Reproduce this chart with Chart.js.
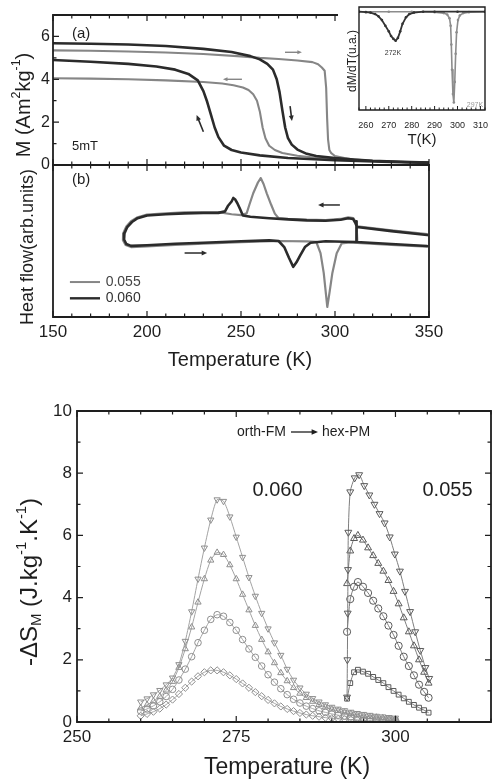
<!DOCTYPE html>
<html>
<head>
<meta charset="utf-8">
<title>M(T), DSC and magnetic entropy change</title>
<script src="https://cdn.jsdelivr.net/npm/chart.js@4.4.1/dist/chart.umd.min.js"></script>
<style>
  html, body { margin: 0; padding: 0; background: #fff; }
  body { position: relative; width: 493px; height: 784px; overflow: hidden; }
  canvas { position: absolute; }
</style>
</head>
<body>
<canvas id="panelA" width="440" height="172" style="left:0px;top:0px"></canvas>
<canvas id="panelB" width="460" height="210" style="left:0px;top:160px"></canvas>
<canvas id="inset" width="155" height="148" style="left:338px;top:0px"></canvas>
<canvas id="panelS" width="493" height="389" style="left:0px;top:395px"></canvas>
<script>
// ---- (a) magnetisation at 5 mT, heating and cooling ----
const tA060Heat = [150, 170, 190, 210, 230, 245, 255, 260, 264, 267, 269, 270.5, 272, 273.5, 275, 277, 280, 285, 290, 300, 310, 320, 335, 350];
const mA060Heat = [5.68, 5.66, 5.62, 5.55, 5.42, 5.27, 5.08, 4.93, 4.72, 4.45, 4.0, 3.4, 2.55, 1.75, 1.25, 0.95, 0.72, 0.52, 0.42, 0.32, 0.26, 0.2, 0.15, 0.12];
const tA060Cool = [150, 170, 190, 205, 215, 222, 227, 230, 232, 234, 236, 238, 241, 245, 250, 260, 275, 300, 325, 350];
const mA060Cool = [4.9, 4.82, 4.72, 4.6, 4.45, 4.25, 3.95, 3.45, 2.95, 2.35, 1.75, 1.3, 0.9, 0.7, 0.58, 0.45, 0.33, 0.22, 0.15, 0.1];
const tA055Heat = [150, 170, 190, 210, 230, 250, 260, 270, 280, 288, 291, 293, 294.5, 295.3, 295.8, 296.3, 297, 298, 300, 305, 310, 320, 335, 350];
const mA055Heat = [5.35, 5.33, 5.3, 5.25, 5.18, 5.07, 5.0, 4.95, 4.88, 4.8, 4.7, 4.55, 4.4, 3.6, 2.2, 1.2, 0.7, 0.55, 0.42, 0.32, 0.26, 0.2, 0.15, 0.12];
const tA055Cool = [150, 170, 190, 210, 230, 240, 246, 251, 254, 256.5, 258.5, 260, 261.5, 263, 265, 268, 272, 280, 290, 300, 315, 335, 350];
const mA055Cool = [4.05, 4.03, 4.0, 3.95, 3.87, 3.8, 3.72, 3.62, 3.5, 3.3, 3.0, 2.5, 1.75, 1.25, 0.9, 0.7, 0.56, 0.43, 0.34, 0.27, 0.2, 0.14, 0.1];

// ---- inset: dM/dT ----
const tIn060 = [257, 260, 262, 264, 265.5, 267, 268.5, 270, 271, 272, 273, 274, 275, 276, 277.5, 279, 281, 285, 290, 300, 312];
const dIn060 = [0, -0.005, -0.01, -0.025, -0.05, -0.09, -0.15, -0.21, -0.26, -0.29, -0.31, -0.28, -0.21, -0.13, -0.06, -0.025, -0.01, 0, 0, 0, 0];
const tIn055 = [257, 270, 280, 290, 294, 295.5, 296.5, 297, 297.3, 297.6, 298, 298.4, 298.8, 299.2, 299.6, 300.2, 301, 302.5, 305, 312];
const dIn055 = [0, 0, 0, -0.005, -0.015, -0.03, -0.07, -0.15, -0.35, -0.62, -0.88, -0.97, -0.75, -0.45, -0.22, -0.09, -0.04, -0.015, -0.005, 0];

// ---- (b) heat flow loops (cooling branch first, then heating) ----
const tB060 = [349, 330, 311.7, 310.8, 309.6, 307, 303, 295, 285, 275, 265, 255, 251, 249.5, 248, 246.8, 245.9, 245, 244, 243, 241.5, 238, 230, 220, 210, 200, 195, 192, 189.5, 188, 187.8, 189, 191.5, 200, 215, 230, 250, 265, 270, 273, 275.5, 277.8, 279.5, 281.5, 284, 287, 295, 305, 311.2, 311.2, 311.7, 330, 349];
const hB060 = [5.39, 5.65, 5.92, 6.2, 6.45, 6.5, 6.4, 6.33, 6.36, 6.42, 6.5, 6.6, 6.68, 7.1, 7.5, 7.75, 7.83, 7.6, 7.45, 7.3, 6.95, 6.85, 6.84, 6.82, 6.76, 6.68, 6.5, 6.25, 5.92, 5.5, 5.1, 4.8, 4.68, 4.72, 4.82, 4.88, 4.98, 5.04, 5.0, 4.6, 3.9, 3.3, 3.6, 4.05, 4.6, 4.88, 4.98, 4.95, 4.93, 6.3, 4.93, 4.8, 4.67];
const tB055 = [349, 330, 311.9, 311, 309.8, 307, 303, 295, 285, 275, 270, 268, 266, 263.7, 262, 260.5, 259, 256.5, 254.5, 253, 250, 245, 238, 230, 220, 210, 200, 195, 191.5, 189, 187.3, 187.2, 188.6, 191.5, 200, 215, 230, 250, 270, 285, 290, 292.3, 294, 295.9, 297.2, 298.6, 300.9, 303.6, 308, 311.4, 311.4, 311.9, 330, 349];
const hB055 = [5.45, 5.7, 5.97, 6.25, 6.5, 6.55, 6.45, 6.38, 6.4, 6.45, 6.5, 6.8, 7.4, 8.14, 8.75, 9.14, 8.85, 8.14, 7.4, 6.82, 6.7, 6.76, 6.9, 6.9, 6.88, 6.82, 6.74, 6.56, 6.3, 5.95, 5.5, 5.05, 4.74, 4.6, 4.65, 4.75, 4.82, 4.92, 5.0, 4.98, 4.95, 4.2, 2.9, 0.66, 1.7, 2.9, 4.2, 4.85, 4.9, 4.88, 6.3, 4.88, 4.75, 4.62];

// ---- bottom: -dS_M for x = 0.060 and x = 0.055 ----
const tS060 = [260, 261, 262, 263, 264, 265, 266, 267, 268, 269, 270, 271, 272, 273, 274, 275, 276, 277, 278, 279, 280, 281, 282, 283, 284, 285, 286, 287, 288, 289, 290, 291, 292, 293, 294, 295, 296, 297, 298, 299, 300];
const sDown060 = [0.65, 0.75, 0.88, 1.02, 1.2, 1.42, 1.85, 2.6, 3.55, 4.6, 5.6, 6.5, 7.15, 7.1, 6.6, 5.95, 5.3, 4.65, 4.05, 3.5, 3.0, 2.55, 2.15, 1.7, 1.35, 1.1, 0.9, 0.76, 0.65, 0.56, 0.48, 0.42, 0.37, 0.32, 0.28, 0.25, 0.22, 0.19, 0.17, 0.15, 0.13];
const sUp060 = [0.45, 0.55, 0.67, 0.82, 1.02, 1.3, 1.75, 2.35, 3.05, 3.85, 4.6, 5.2, 5.45, 5.38, 5.05, 4.6, 4.1, 3.6, 3.1, 2.65, 2.25, 1.9, 1.58, 1.32, 1.1, 0.92, 0.78, 0.66, 0.56, 0.48, 0.41, 0.36, 0.31, 0.27, 0.23, 0.2, 0.17, 0.15, 0.13, 0.11, 0.1];
const sCirc060 = [0.35, 0.42, 0.52, 0.65, 0.82, 1.05, 1.35, 1.7, 2.1, 2.55, 2.95, 3.3, 3.45, 3.4, 3.2, 2.95, 2.65, 2.35, 2.08, 1.8, 1.52, 1.28, 1.07, 0.88, 0.73, 0.61, 0.51, 0.43, 0.36, 0.31, 0.26, 0.22, 0.19, 0.16, 0.14, 0.12, 0.1, 0.09, 0.08, 0.07, 0.06];
const sSq060 = [0.2, 0.26, 0.33, 0.43, 0.56, 0.72, 0.9, 1.1, 1.3, 1.47, 1.6, 1.66, 1.66, 1.6, 1.5, 1.38, 1.24, 1.1, 0.96, 0.83, 0.71, 0.6, 0.5, 0.42, 0.35, 0.29, 0.24, 0.2, 0.17, 0.14, 0.12, 0.1, 0.09, 0.08, 0.07, 0.06, 0.05, 0.05, 0.04, 0.04, 0.04];

const tDown055 = [292.4, 292.45, 292.5, 292.55, 292.6, 292.9, 293.6, 294.3, 295.1, 295.9, 296.7, 297.5, 298.3, 299.1, 299.9, 300.7, 301.5, 302.3, 303.1, 303.9, 304.7, 305.3];
const sDown055 = [0.8, 2.0, 3.5, 4.9, 6.1, 7.4, 7.85, 7.95, 7.6, 7.3, 7.0, 6.7, 6.4, 5.95, 5.4, 4.85, 4.2, 3.55, 2.9, 2.3, 1.75, 1.4];
const tS055 = [292.4, 292.9, 293.5, 294.1, 294.9, 295.7, 296.5, 297.3, 298.1, 298.9, 299.7, 300.5, 301.3, 302.1, 302.9, 303.7, 304.5, 305.2];
const sUp055 = [4.45, 5.5, 5.9, 6.0, 5.85, 5.6, 5.35, 5.1, 4.85, 4.55, 4.2, 3.8, 3.35, 2.9, 2.45, 2.0, 1.6, 1.25];
const sCirc055 = [2.9, 3.95, 4.35, 4.5, 4.35, 4.15, 3.9, 3.65, 3.4, 3.1, 2.8, 2.45, 2.1, 1.8, 1.5, 1.2, 0.97, 0.78];
const sSq055 = [0.75, 1.25, 1.6, 1.68, 1.62, 1.55, 1.45, 1.35, 1.25, 1.12, 1.0, 0.88, 0.76, 0.65, 0.55, 0.46, 0.38, 0.3];

const FONT = '"Liberation Sans", Arial, Helvetica, sans-serif';
const DARK = '#2b2b2b';
const GRAY = '#868686';
const INK = '#1e1e1e';

Chart.defaults.font.family = FONT;
Chart.defaults.color = INK;
Chart.defaults.animation = false;
Chart.defaults.responsive = false;
Chart.defaults.devicePixelRatio = 1;
Chart.defaults.plugins.legend.display = false;
Chart.defaults.plugins.tooltip.enabled = false;
Chart.defaults.layout.autoPadding = false;

function xy(xs, ys) {
  return xs.map((x, i) => ({ x: x, y: ys[i] }));
}

function line(xs, ys, color, width) {
  return { data: xy(xs, ys), showLine: true, borderColor: color, borderWidth: width,
    pointRadius: 0, tension: 0, borderJoinStyle: 'round', borderCapStyle: 'round' };
}

function marks(xs, ys, style, rot, mColor, lColor, r) {
  return { data: xy(xs, ys), showLine: true, borderColor: lColor, borderWidth: 1, tension: 0.25,
    pointStyle: style, pointRotation: rot, pointRadius: r, pointBorderColor: mColor,
    pointBackgroundColor: 'rgba(255,255,255,0)', pointBorderWidth: 1 };
}

// fixed axis box so the plot area lands where the figure has it
function fix(size, horizontal) {
  return axis => {
    if (horizontal) axis.height = size; else axis.width = size;
    axis.paddingTop = axis.paddingBottom = axis.paddingLeft = axis.paddingRight = 0;
  };
}

const NOGRID = { display: false, drawTicks: false };

function axis(min, max, step, o) {
  return {
    min: min, max: max, grid: NOGRID, border: { display: false },
    ticks: { stepSize: step, autoSkip: false, maxRotation: 0, color: INK, display: o.show !== false,
      font: { size: o.size || 16 }, padding: o.pad || 4, callback: o.label },
    afterFit: fix(o.fit, o.horizontal)
  };
}

// text with sub/superscripts: parts = [text, scale, shift(em)]
function richText(ctx, parts, x, y, size, align, rotate) {
  ctx.save();
  ctx.translate(x, y);
  if (rotate) ctx.rotate(rotate);
  const widths = parts.map(p => {
    ctx.font = (size * (p[1] || 1)) + 'px ' + FONT;
    return ctx.measureText(p[0]).width;
  });
  const total = widths.reduce((a, b) => a + b, 0);
  let cx = align === 'center' ? -total / 2 : (align === 'right' ? -total : 0);
  ctx.textBaseline = 'middle';
  ctx.textAlign = 'left';
  parts.forEach((p, i) => {
    ctx.font = (size * (p[1] || 1)) + 'px ' + FONT;
    ctx.fillText(p[0], cx, (p[2] || 0) * size);
    cx += widths[i];
  });
  ctx.restore();
}

function arrow(ctx, x1, y1, x2, y2, w, h) {
  const a = Math.atan2(y2 - y1, x2 - x1);
  ctx.lineWidth = w;
  ctx.beginPath();
  ctx.moveTo(x1, y1);
  ctx.lineTo(x2 - Math.cos(a) * h * 0.6, y2 - Math.sin(a) * h * 0.6);
  ctx.stroke();
  ctx.beginPath();
  ctx.moveTo(x2, y2);
  ctx.lineTo(x2 - h * Math.cos(a - 0.42), y2 - h * Math.sin(a - 0.42));
  ctx.lineTo(x2 - h * Math.cos(a + 0.42), y2 - h * Math.sin(a + 0.42));
  ctx.closePath();
  ctx.fill();
}

const bgPlugin = {
  id: 'bg',
  beforeDraw(chart, args, o) {
    if (!o || !o.color) return;
    const ctx = chart.ctx;
    ctx.save();
    ctx.fillStyle = o.color;
    ctx.fillRect(0, 0, chart.width, chart.height);
    ctx.restore();
  }
};

// box round the plot plus inward tick marks
const framePlugin = {
  id: 'frame',
  afterDatasetsDraw(chart, args, o) {
    if (!o || !o.sides) return;
    const { ctx, chartArea: a, scales } = chart;
    ctx.save();
    ctx.strokeStyle = INK;
    ctx.lineWidth = o.width || 1.6;
    ctx.lineCap = 'square';
    ctx.beginPath();
    if (o.sides.includes('l')) { ctx.moveTo(a.left, a.top); ctx.lineTo(a.left, a.bottom); }
    if (o.sides.includes('r')) { ctx.moveTo(a.right, a.top); ctx.lineTo(a.right, a.bottom); }
    if (o.sides.includes('t')) { ctx.moveTo(a.left, a.top); ctx.lineTo(o.topEnd || a.right, a.top); }
    if (o.sides.includes('b')) { ctx.moveTo(a.left, a.bottom); ctx.lineTo(a.right, a.bottom); }
    ctx.stroke();
    ctx.lineWidth = o.tickWidth || 1.2;
    ctx.lineCap = 'butt';
    ctx.beginPath();
    (o.xTicks || '').split('').forEach(side => {
      scales.x.ticks.forEach(t => {
        const px = scales.x.getPixelForValue(t.value);
        const len = t.label === '' ? o.minor : o.major;
        if (side === 't' && o.topEnd && px > o.topEnd) return;
        const y0 = side === 'b' ? a.bottom : a.top;
        ctx.moveTo(px, y0);
        ctx.lineTo(px, y0 + (side === 'b' ? -len : len));
      });
    });
    (o.yTicks || '').split('').forEach(side => {
      scales.y.ticks.forEach(t => {
        const py = scales.y.getPixelForValue(t.value);
        const len = t.label === '' ? o.minor : o.major;
        const x0 = side === 'l' ? a.left : a.right;
        ctx.moveTo(x0, py);
        ctx.lineTo(x0 + (side === 'l' ? len : -len), py);
      });
    });
    ctx.stroke();
    ctx.restore();
  }
};

// labels, arrows and legend strokes; data units unless px is set
const notesPlugin = {
  id: 'notes',
  afterDraw(chart, args, o) {
    if (!o || !o.items) return;
    const ctx = chart.ctx;
    const sx = chart.scales.x, sy = chart.scales.y;
    const P = (it, x, y) => it.px ? [x, y] : [sx.getPixelForValue(x), sy.getPixelForValue(y)];
    o.items.forEach(it => {
      ctx.save();
      ctx.fillStyle = ctx.strokeStyle = it.color || INK;
      if (it.kind === 'text') {
        const [x, y] = P(it, it.x, it.y);
        const parts = typeof it.text === 'string' ? [[it.text]] : it.text;
        richText(ctx, parts, x, y, it.size, it.align || 'left', it.rotate || 0);
      } else if (it.kind === 'arrow') {
        const [x1, y1] = P(it, it.x1, it.y1);
        const [x2, y2] = P(it, it.x2, it.y2);
        arrow(ctx, x1, y1, x2, y2, it.width || 1.5, it.head || 6);
      } else if (it.kind === 'line') {
        const [x1, y1] = P(it, it.x1, it.y1);
        const [x2, y2] = P(it, it.x2, it.y2);
        ctx.lineWidth = it.width || 2;
        ctx.beginPath();
        ctx.moveTo(x1, y1);
        ctx.lineTo(x2, y2);
        ctx.stroke();
      }
      ctx.restore();
    });
  }
};

Chart.register(bgPlugin, framePlugin, notesPlugin);

const UP = -Math.PI / 2;

// ---------- panel (a) ----------
new Chart(document.getElementById('panelA'), {
  type: 'scatter',
  data: { datasets: [
    line(tA060Heat, mA060Heat, DARK, 2.6),
    line(tA060Cool, mA060Cool, DARK, 2.6),
    line(tA055Heat, mA055Heat, GRAY, 2.1),
    line(tA055Cool, mA055Cool, GRAY, 2.1)
  ] },
  options: {
    layout: { padding: { left: 0, top: 15, right: 11, bottom: 0 } },
    scales: {
      x: axis(150, 350, 10, { fit: 7, horizontal: true, show: false, label: v => v % 50 === 0 ? v : '' }),
      y: axis(0, 7, 1, { fit: 53, size: 16, pad: 3, label: v => (v % 2 === 0 && v < 7) ? v : '' })
    },
    plugins: {
      frame: { sides: 'ltb', xTicks: 'tb', yTicks: 'l', major: 6, minor: 3.5, width: 1.8 },
      notes: { items: [
        { kind: 'text', px: true, x: 72, y: 34, text: '(a)', size: 15 },
        { kind: 'text', px: true, x: 72, y: 146, text: '5mT', size: 13 },
        { kind: 'arrow', x1: 273.4, y1: 5.26, x2: 282.4, y2: 5.26, color: GRAY, width: 1.4, head: 5 },
        { kind: 'arrow', x1: 250.5, y1: 4.0, x2: 240.4, y2: 4.0, color: GRAY, width: 1.4, head: 5 },
        { kind: 'arrow', x1: 276.1, y1: 2.75, x2: 277.1, y2: 2.05, color: DARK, width: 1.6, head: 6 },
        { kind: 'arrow', x1: 230, y1: 1.55, x2: 226.4, y2: 2.33, color: DARK, width: 1.6, head: 6 },
        { kind: 'text', px: true, x: 24, y: 105, size: 20, align: 'center', rotate: UP,
          text: [['M (Am'], ['2', 0.62, -0.35], ['kg'], ['-1', 0.62, -0.35], [')']] }
      ] }
    }
  }
});

// ---------- panel (b) ----------
new Chart(document.getElementById('panelB'), {
  type: 'scatter',
  data: { datasets: [
    line(tB060, hB060, DARK, 2.6),
    line(tB055, hB055, GRAY, 2.2)
  ] },
  options: {
    layout: { padding: { left: 0, top: 5, right: 31, bottom: 0 } },
    scales: {
      x: axis(150, 350, 10, { fit: 53, horizontal: true, size: 17, pad: 5, label: v => v % 50 === 0 ? v : '' }),
      y: axis(0, 10, 1, { fit: 53, show: false, label: () => '' })
    },
    plugins: {
      frame: { sides: 'lrtb', xTicks: 'tb', yTicks: '', major: 6, minor: 3.5, width: 1.8 },
      notes: { items: [
        { kind: 'text', px: true, x: 72, y: 20, text: '(b)', size: 15 },
        { kind: 'line', x1: 159, y1: 2.3, x2: 175, y2: 2.3, color: GRAY, width: 2 },
        { kind: 'line', x1: 159, y1: 1.23, x2: 175, y2: 1.23, color: DARK, width: 2.4 },
        { kind: 'text', x: 178, y: 2.3, text: '0.055', size: 14, color: '#444' },
        { kind: 'text', x: 178, y: 1.23, text: '0.060', size: 14, color: '#333' },
        { kind: 'arrow', x1: 302.6, y1: 7.37, x2: 291, y2: 7.37, color: DARK, width: 1.5, head: 6 },
        { kind: 'arrow', x1: 220, y1: 4.21, x2: 232, y2: 4.21, color: DARK, width: 1.5, head: 6 },
        { kind: 'text', px: true, x: 28, y: 87, size: 18, align: 'center', rotate: UP, text: 'Heat flow(arb.units)' },
        { kind: 'text', px: true, x: 240, y: 200, size: 20, align: 'center', text: 'Temperature (K)' }
      ] }
    }
  }
});

// ---------- inset dM/dT ----------
new Chart(document.getElementById('inset'), {
  type: 'scatter',
  data: { datasets: [
    Object.assign(line(tIn060, dIn060, '#333', 1.8), { pointRadius: 1.3, pointBackgroundColor: '#333', pointBorderWidth: 0 }),
    Object.assign(line(tIn055, dIn055, '#8c8c8c', 1.6), { pointRadius: 1.3, pointBackgroundColor: '#8c8c8c', pointBorderWidth: 0 })
  ] },
  options: {
    layout: { padding: { left: 0, top: 7, right: 8, bottom: 0 } },
    scales: {
      x: axis(257, 312, 2, { fit: 38, horizontal: true, size: 9, pad: 10, label: v => v % 10 === 0 ? v : '' }),
      y: axis(-1.05, 0.05, 0.1, { fit: 21, show: false, label: () => '' })
    },
    plugins: {
      bg: { color: '#ffffff' },
      frame: { sides: 'lrtb', xTicks: 'b', yTicks: '', major: 4, minor: 2.5, width: 1.4, tickWidth: 1 },
      notes: { items: [
        { kind: 'text', px: true, x: 55, y: 53, text: '272K', size: 7, align: 'center', color: '#333' },
        { kind: 'text', px: true, x: 137, y: 105, text: '297K', size: 7, align: 'center', color: '#999' },
        { kind: 'text', px: true, x: 15, y: 61, size: 12, align: 'center', rotate: UP, text: 'dM/dT(u.a.)' },
        { kind: 'text', px: true, x: 84, y: 140, size: 15, align: 'center', text: 'T(K)' }
      ] }
    }
  }
});

// ---------- bottom: magnetic entropy change ----------
const L060 = '#a3a3a3', M060 = '#8e8e8e', L055 = '#7d7d7d', M055 = '#5a5a5a';
new Chart(document.getElementById('panelS'), {
  type: 'scatter',
  data: { datasets: [
    marks(tDown055, sDown055, 'triangle', 180, M055, L055, 4),
    marks(tS055, sUp055, 'triangle', 0, M055, L055, 4),
    marks(tS055, sCirc055, 'circle', 0, M055, L055, 3.6),
    marks(tS055, sSq055, 'rect', 0, M055, L055, 3.4),
    marks(tS060, sDown060, 'triangle', 180, M060, L060, 3.6),
    marks(tS060, sUp060, 'triangle', 0, M060, L060, 3.6),
    marks(tS060, sCirc060, 'circle', 0, M060, L060, 3.3),
    marks(tS060, sSq060, 'rectRot', 0, M060, L060, 3.6)
  ] },
  options: {
    layout: { padding: { left: 0, top: 16, right: 2, bottom: 0 } },
    scales: {
      x: axis(250, 315, 5, { fit: 62, horizontal: true, size: 17, pad: 5, label: v => v % 25 === 0 ? v : '' }),
      y: axis(0, 10, 1, { fit: 77, size: 17, pad: 5, label: v => v % 2 === 0 ? v : '' })
    },
    plugins: {
      frame: { sides: 'lrtb', xTicks: 'tb', yTicks: 'lr', major: 6, minor: 3.5, width: 1.8 },
      notes: { items: [
        { kind: 'text', px: true, x: 237, y: 37, text: 'orth-FM', size: 14 },
        { kind: 'arrow', px: true, x1: 291, y1: 37, x2: 318, y2: 37, width: 1.3, head: 7 },
        { kind: 'text', px: true, x: 322, y: 37, text: 'hex-PM', size: 14 },
        { kind: 'text', px: true, x: 277.5, y: 95, text: '0.060', size: 20, align: 'center' },
        { kind: 'text', px: true, x: 447.5, y: 95, text: '0.055', size: 20, align: 'center' },
        { kind: 'text', px: true, x: 30, y: 187, size: 24, align: 'center', rotate: UP,
          text: [['-ΔS'], ['M', 0.62, 0.3], [' (J.kg'], ['-1', 0.62, -0.35], ['.K'], ['-1', 0.62, -0.35], [')']] },
        { kind: 'text', px: true, x: 287, y: 373, size: 23, align: 'center', text: 'Temperature (K)' }
      ] }
    }
  }
});
</script>
</body>
</html>
